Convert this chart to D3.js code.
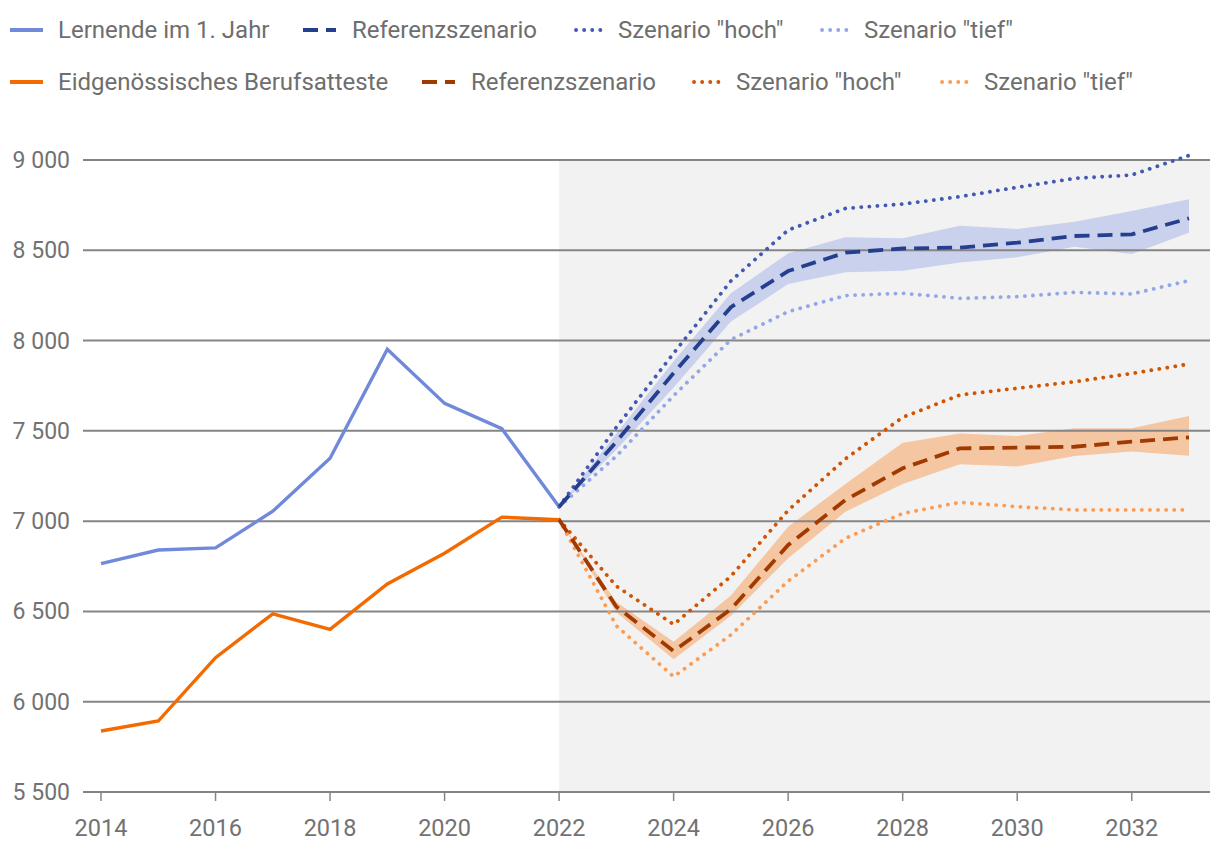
<!DOCTYPE html>
<html>
<head>
<meta charset="utf-8">
<script src="https://cdn.jsdelivr.net/npm/d3@7"></script>
<style>
  body { margin: 0; background: #fff; }
  svg { display: block; font-family: Roboto, "Noto Sans", sans-serif; }
</style>
</head>
<body>
<svg id="chart" width="1220" height="852"></svg>
<script>
// historical values
const histYears = [2014, 2015, 2016, 2017, 2018, 2019, 2020, 2021, 2022];
const lernende = [6765, 6840, 6852, 7055, 7348, 7952, 7652, 7512, 7080];
const attest = [5838, 5893, 6244, 6487, 6401, 6652, 6822, 7022, 7008];

// projections
const projYears = [2022, 2023, 2024, 2025, 2026, 2027, 2028, 2029, 2030, 2031, 2032, 2033];
const blueRef = [7080, 7440, 7820, 8185, 8385, 8487, 8510, 8515, 8542, 8579, 8588, 8677];
const blueHoch = [7080, 7520, 7930, 8330, 8612, 8732, 8756, 8797, 8849, 8898, 8917, 9025];
const blueTief = [7080, 7360, 7695, 8005, 8160, 8249, 8262, 8234, 8243, 8267, 8258, 8332];
const blueBandHi = [7080, 7485, 7885, 8262, 8483, 8572, 8567, 8636, 8618, 8658, 8717, 8782];
const blueBandLo = [7080, 7395, 7740, 8105, 8313, 8378, 8387, 8433, 8461, 8520, 8479, 8597];

const orRef = [7008, 6526, 6280, 6512, 6868, 7117, 7293, 7403, 7407, 7412, 7440, 7464];
const orHoch = [7008, 6640, 6428, 6695, 7060, 7345, 7575, 7699, 7736, 7772, 7818, 7870];
const orTief = [7008, 6420, 6139, 6370, 6668, 6905, 7043, 7104, 7080, 7062, 7062, 7062];
const orBandHi = [7008, 6552, 6332, 6588, 6969, 7206, 7434, 7486, 7471, 7514, 7514, 7582];
const orBandLo = [7008, 6495, 6235, 6476, 6794, 7052, 7206, 7315, 7302, 7361, 7385, 7362];

const yTicks = [5500, 6000, 6500, 7000, 7500, 8000, 8500, 9000];
const xTicks = [2014, 2016, 2018, 2020, 2022, 2024, 2026, 2028, 2030, 2032];

const legendRows = [
  [
    {label: 'Lernende im 1. Jahr', color: '#7089d8', type: 'solid', x: 10},
    {label: 'Referenzszenario', color: '#253f8e', type: 'dash', x: 303},
    {label: 'Szenario "hoch"', color: '#4358b5', type: 'dot', x: 574},
    {label: 'Szenario "tief"', color: '#93a7e6', type: 'dot', x: 820}
  ],
  [
    {label: 'Eidgenössisches Berufsatteste', color: '#f26a00', type: 'solid', x: 10},
    {label: 'Referenzszenario', color: '#a13a00', type: 'dash', x: 422},
    {label: 'Szenario "hoch"', color: '#d25300', type: 'dot', x: 692},
    {label: 'Szenario "tief"', color: '#fd9b52', type: 'dot', x: 940}
  ]
];

const svg = d3.select('#chart');

const x = d3.scaleLinear().domain([2014, 2033]).range([101, 1189]);
const y = d3.scaleLinear().domain([5500, 9000]).range([792, 160]);
const gridLeft = 83, gridRight = 1210;

const dashArr = '15,8';
const dotArr = '0.1,8';

// forecast background
svg.append('rect')
  .attr('x', x(2022)).attr('y', y(9000))
  .attr('width', gridRight - x(2022)).attr('height', y(5500) - y(9000))
  .attr('fill', '#f2f2f2');

// bands
const area = (hi, lo) => d3.area()
  .x((d, i) => x(projYears[i]))
  .y0((d, i) => y(lo[i]))
  .y1((d, i) => y(hi[i]))(projYears);

svg.append('path').attr('d', area(blueBandHi, blueBandLo)).attr('fill', '#c9d1ec');
svg.append('path').attr('d', area(orBandHi, orBandLo)).attr('fill', '#f5c6a2');

// grid
svg.append('g').selectAll('line').data(yTicks).join('line')
  .attr('x1', gridLeft).attr('x2', gridRight)
  .attr('y1', d => y(d)).attr('y2', d => y(d))
  .attr('stroke', '#858585').attr('stroke-width', 2);

svg.append('g').selectAll('text').data(yTicks).join('text')
  .attr('x', 70).attr('y', d => y(d)).attr('dy', '0.35em')
  .attr('text-anchor', 'end')
  .attr('fill', '#727272').style('font-size', '23px')
  .text(d => d3.format(',')(d).replace(',', ' '));

// x axis ticks
svg.append('g').selectAll('line').data(xTicks).join('line')
  .attr('x1', d => x(d)).attr('x2', d => x(d))
  .attr('y1', y(5500)).attr('y2', y(5500) + 9)
  .attr('stroke', '#858585').attr('stroke-width', 1.5);

svg.append('g').selectAll('text').data(xTicks).join('text')
  .attr('x', d => x(d)).attr('y', 836)
  .attr('text-anchor', 'middle')
  .attr('fill', '#727272').style('font-size', '23.5px')
  .text(d => d);

// lines
const line = (years, vals) => d3.line()
  .x((d, i) => x(years[i]))
  .y((d, i) => y(vals[i]))(vals);

function drawLine(years, vals, color, type, width) {
  const p = svg.append('path')
    .attr('d', line(years, vals))
    .attr('fill', 'none')
    .attr('stroke', color)
    .attr('stroke-width', width);
  if (type === 'dash') p.attr('stroke-dasharray', dashArr);
  if (type === 'dot') p.attr('stroke-dasharray', dotArr).attr('stroke-linecap', 'round');
}

drawLine(projYears, blueTief, '#93a7e6', 'dot', 3.8);
drawLine(projYears, blueHoch, '#4358b5', 'dot', 3.8);
drawLine(projYears, orTief, '#fd9b52', 'dot', 3.8);
drawLine(projYears, orHoch, '#d25300', 'dot', 3.8);
drawLine(histYears, lernende, '#7089d8', 'solid', 3.4);
drawLine(histYears, attest, '#f26a00', 'solid', 3.4);
drawLine(projYears, blueRef, '#253f8e', 'dash', 3.8);
drawLine(projYears, orRef, '#a13a00', 'dash', 3.8);

// legend
legendRows.forEach((row, r) => {
  const ly = 30 + r * 52;
  row.forEach(item => {
    const l = svg.append('line')
      .attr('x1', item.x).attr('x2', item.x + 33)
      .attr('y1', ly).attr('y2', ly)
      .attr('stroke', item.color).attr('stroke-width', 3.8);
    if (item.type === 'dash') l.attr('stroke-dasharray', dashArr);
    if (item.type === 'dot') l.attr('x1', item.x + 2).attr('x2', item.x + 30)
      .attr('stroke-dasharray', dotArr).attr('stroke-linecap', 'round');
    svg.append('text')
      .attr('x', item.x + (item.type === 'solid' ? 48 : item.type === 'dash' ? 49 : 44))
      .attr('y', ly).attr('dy', '0.35em')
      .attr('fill', '#6e6e6e').style('font-size', '24px')
      .text(item.label);
  });
});
</script>
</body>
</html>
